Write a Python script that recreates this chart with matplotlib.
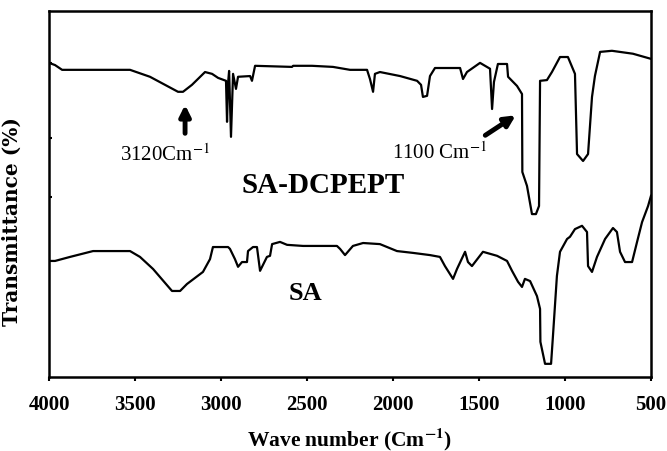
import matplotlib
matplotlib.use('Agg')
import matplotlib.pyplot as plt

# FTIR spectra (transmittance in arbitrary % units)
wn_dcpept = [4000, 3965, 3924, 3529, 3413, 3250, 3221, 3169, 3093, 3052, 3017, 2971,
             2965, 2959, 2953, 2942, 2930, 2913, 2901, 2831, 2820, 2802, 2587, 2581,
             2471, 2349, 2250, 2151, 2134, 2116, 2105, 2076, 1959, 1860, 1837, 1826,
             1802, 1785, 1756, 1610, 1593, 1570, 1494, 1465, 1436, 1424, 1413, 1390,
             1337, 1331, 1279, 1250, 1248, 1221, 1192, 1169, 1151, 1145, 1105, 1076,
             1029, 983, 942, 930, 895, 866, 843, 826, 796, 727, 605, 500]
t_dcpept = [85.8, 85.2, 83.9, 83.9, 82.0, 77.9, 77.9, 79.8, 83.3, 82.8, 81.7, 80.9,
            69.7, 80.3, 83.6, 65.6, 82.8, 78.7, 82.0, 82.2, 80.9, 85.0, 84.7, 85.0,
            85.0, 84.7, 83.9, 83.9, 81.4, 77.9, 82.8, 83.3, 82.2, 80.9, 79.8, 76.5,
            76.8, 82.2, 84.4, 84.4, 81.4, 83.3, 85.8, 85.0, 84.2, 73.2, 80.6, 85.5,
            85.5, 82.0, 79.5, 77.3, 56.0, 52.2, 44.5, 44.5, 46.7, 80.9, 81.1, 83.3,
            87.4, 87.4, 82.8, 60.9, 59.0, 60.9, 76.5, 82.2, 88.8, 89.1, 88.3, 86.9]

wn_sa = [4000, 3965, 3878, 3744, 3674, 3529, 3471, 3395, 3285, 3238, 3198, 3105,
         3064, 3047, 2959, 2948, 2919, 2901, 2878, 2849, 2843, 2814, 2791, 2773,
         2733, 2715, 2703, 2657, 2616, 2523, 2326, 2308, 2279, 2233, 2174, 2076,
         1977, 1884, 1785, 1727, 1698, 1651, 1628, 1581, 1564, 1541, 1477, 1395,
         1337, 1308, 1273, 1250, 1233, 1203, 1163, 1145, 1143, 1116, 1081, 1070,
         1047, 1029, 988, 971, 942, 901, 872, 866, 843, 814, 767, 721, 698, 680,
         651, 610, 581, 552, 517, 500]
t_sa = [31.7, 31.7, 32.8, 34.4, 34.4, 34.4, 32.8, 29.5, 23.5, 23.5, 25.4, 28.7,
        32.2, 35.5, 35.5, 35.0, 32.2, 30.1, 31.4, 31.4, 34.4, 35.5, 35.5, 29.0,
        32.8, 33.1, 36.3, 36.9, 36.1, 35.8, 35.8, 35.0, 33.3, 35.8, 36.6, 36.3,
        34.4, 33.9, 33.3, 32.8, 30.3, 26.8, 29.5, 34.2, 31.4, 30.3, 34.2, 33.1,
        31.7, 29.0, 26.0, 24.6, 26.8, 26.2, 22.1, 18.6, 9.6, 3.6, 3.6, 11.2,
        27.6, 34.2, 37.7, 38.3, 40.4, 41.3, 39.6, 30.3, 28.7, 32.8, 37.7, 40.7,
        39.6, 34.2, 31.4, 31.4, 36.9, 42.3, 46.7, 49.5]

xticks = [4000, 3500, 3000, 2500, 2000, 1500, 1000, 500]

plt.rcParams['font.family'] = ['Liberation Serif', 'DejaVu Serif']
plt.rcParams['mathtext.fontset'] = 'stix'

fig = plt.figure(figsize=(6.67, 4.52), dpi=100)
ax = fig.add_axes([0.0735, 0.1637, 0.9025, 0.81])

ax.plot(wn_dcpept, t_dcpept, color='black', lw=1.6)
ax.plot(wn_sa, t_sa, color='black', lw=1.6)

ax.set_xlim(4000, 500)
ax.set_ylim(0, 100)
ax.set_xticks(xticks)
ax.set_xticklabels([str(v) for v in xticks], fontsize=15, fontweight='bold')
ax.set_yticks([49.2, 65.3, 85.8])
ax.set_yticklabels([])
ax.tick_params(axis='y', direction='in', length=2, width=1.5)
ax.tick_params(axis='x', direction='out', length=3, width=1.5, pad=9)
for s in ax.spines.values():
    s.set_linewidth(1.8)

ax.set_xlabel(r'Wave number (Cm$^{\mathbf{-1}}$)', fontsize=15.5, fontweight='bold', labelpad=8)
ax.set_ylabel('Transmittance (%)', fontsize=14.5, fontweight='bold',
              family=['DejaVu Serif'])
ax.yaxis.set_label_coords(-0.045, 0.426)

ax.text(2407, 52.7, 'SA-DCPEPT', fontsize=21, fontweight='bold', ha='center', va='center')
ax.text(2506, 23.2, 'SA', fontsize=19, fontweight='bold', ha='center', va='center')

ax.annotate('', xy=(3209, 75.1), xytext=(3209, 65.8),
            arrowprops=dict(arrowstyle='-|>', lw=3.5, color='black', mutation_scale=16))
ax.text(3326, 60.9, r'3120Cm$^{-1}$', fontsize=15, ha='center', va='center')

ax.annotate('', xy=(1273, 71.9), xytext=(1477, 65.6),
            arrowprops=dict(arrowstyle='-|>', lw=3.5, color='black', mutation_scale=16))
ax.text(1727, 61.5, r'1100 Cm$^{-1}$', fontsize=15, ha='center', va='center')

fig.savefig('out.png', dpi=100)
